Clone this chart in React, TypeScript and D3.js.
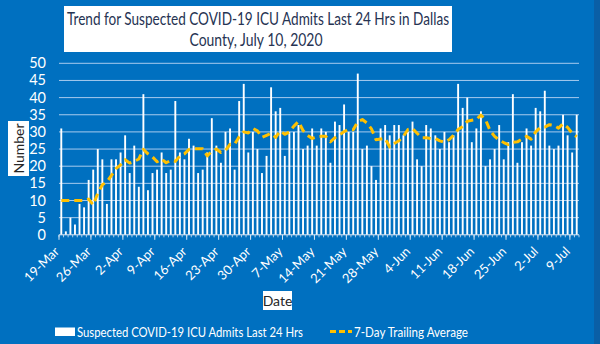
import React from "react";
import * as d3 from "d3";

const admits: number[] = [
  31, 1, 5, 3, 9, 8, 16, 19, 25, 22, 9, 22, 22, 24, 29, 18, 26, 14, 41, 13,
  18, 19, 24, 18, 19, 39, 24, 22, 28, 26, 18, 19, 24, 34, 26, 21, 30, 31, 19, 39,
  44, 24, 30, 25, 18, 23, 43, 36, 37, 23, 30, 30, 32, 25, 26, 31, 26, 31, 30, 21,
  33, 32, 38, 30, 30, 47, 25, 26, 20, 16, 31, 32, 29, 32, 32, 29, 30, 33, 22, 20,
  32, 31, 29, 25, 30, 27, 29, 44, 37, 40, 27, 31, 36, 20, 22, 25, 32, 22, 27, 41,
  21, 27, 31, 26, 37, 36, 42, 26, 25, 26, 35, 29, 24, 35,
];

const trailingAvg: number[] = [
  10, 10, 10, 10, 10, 10, 10.4, 8.7, 12.1, 14.6, 15.4, 17.3, 19.3, 20.4, 21.9, 20.9, 21.4, 22.1, 24.9, 23.6,
  22.7, 21.3, 22.1, 21.0, 21.7, 21.4, 23.0, 23.6, 24.9, 25.1, 25.1, 25.1, 23.0, 24.4, 25.0, 24.0, 24.6, 26.4, 26.4, 28.6,
  30.0, 29.7, 31.0, 30.3, 28.4, 29.0, 29.6, 28.4, 30.3, 29.3, 30.0, 31.7, 33.0, 30.4, 29.0, 28.1, 28.6, 28.7, 28.7, 27.1,
  28.3, 29.1, 30.1, 30.7, 30.6, 33.0, 33.6, 32.6, 30.9, 27.7, 27.9, 28.1, 25.6, 26.6, 27.4, 28.7, 30.7, 31.0, 29.6, 28.3,
  28.3, 28.1, 28.1, 27.4, 27.0, 27.7, 29.0, 30.7, 31.6, 33.1, 33.4, 33.6, 34.9, 33.6, 30.4, 28.7, 27.6, 26.9, 26.3, 27.0,
  27.1, 27.9, 28.7, 27.9, 30.0, 31.3, 31.4, 32.1, 31.9, 31.1, 32.4, 31.3, 29.6, 28.6,
];

const tickLabels: string[] = [
  "19-Mar", "26-Mar", "2-Apr", "9-Apr", "16-Apr", "23-Apr", "30-Apr", "7-May", "14-May",
  "21-May", "28-May", "4-Jun", "11-Jun", "18-Jun", "25-Jun", "2-Jul", "9-Jul",
];

const yTicks: number[] = [0, 5, 10, 15, 20, 25, 30, 35, 40, 45, 50];

const dates: Date[] = d3.timeDay.range(new Date(2020, 2, 19), new Date(2020, 6, 11));

const W = 600;
const H = 344;
const BG = "#0070C0";
const FONT = "Lato, 'Open Sans', sans-serif";

export default function App() {
  const x = d3
    .scaleBand<number>()
    .domain(dates.map((_, i) => i))
    .range([59, 579])
    .padding(0);
  const step = x.step();
  const y = d3.scaleLinear().domain([0, 50]).range([234.8, 63.3]);
  const barW = 1.9;

  const line = d3
    .line<number>()
    .x((_, i) => (x(i) as number) + step / 2)
    .y((d) => y(d));

  const tickIdx = tickLabels.map((_, k) => k * 7);

  return (
    <svg
      width={W}
      height={H}
      style={{ position: "fixed", left: 0, top: 0, display: "block" }}
      fontFamily={FONT}
    >
      <rect x={0} y={0} width={W} height={H} fill={BG} />
      <rect x={594} y={0} width={6} height={H} fill="#0a5fa6" />

      {/* title */}
      <rect x={64} y={6} width={388} height={46} fill="#ffffff" />
      <text x={258} y={25} textAnchor="middle" fontSize={17} fill="#263352"
        textLength={382} lengthAdjust="spacingAndGlyphs">
        Trend for Suspected COVID-19 ICU Admits Last 24 Hrs in Dallas
      </text>
      <text x={256} y={46} textAnchor="middle" fontSize={17} fill="#263352"
        textLength={133} lengthAdjust="spacingAndGlyphs">
        County, July 10, 2020
      </text>

      {/* gridlines */}
      {yTicks.slice(1).map((t) => (
        <line key={"g" + t} x1={59} x2={579} y1={y(t)} y2={y(t)} stroke="#a7cbee" strokeWidth={1} />
      ))}

      {/* y labels */}
      {yTicks.map((t) => (
        <text key={"yl" + t} x={46} y={y(t) + 5} textAnchor="end" fontSize={14.5} fill="#ffffff">
          {t}
        </text>
      ))}

      {/* bars */}
      {admits.map((v, i) => (
        <rect
          key={"b" + i}
          x={(x(i) as number) + step / 2 - barW / 2}
          y={y(v)}
          width={barW}
          height={y(0) - y(v)}
          fill="#ffffff"
        />
      ))}

      {/* axis */}
      <line x1={59} x2={579} y1={y(0)} y2={y(0)} stroke="#d6e6f5" strokeWidth={1} />
      {dates.map((_, i) => (
        <line key={"mt" + i} x1={x(i) as number} x2={x(i) as number} y1={y(0)} y2={y(0) + 2.5}
          stroke="#d6e6f5" strokeWidth={0.8} />
      ))}
      <line x1={579} x2={579} y1={y(0)} y2={y(0) + 2.5} stroke="#d6e6f5" strokeWidth={0.8} />
      {tickIdx.map((i) => (
        <line key={"t" + i} x1={x(i) as number} x2={x(i) as number} y1={y(0)} y2={y(0) + 5}
          stroke="#d6e6f5" strokeWidth={1} />
      ))}
      {tickLabels.map((lab, k) => {
        const tx = (x(tickIdx[k]) as number) + 1;
        const ty = y(0) + 17.5;
        return (
          <text key={"xl" + lab} transform={`translate(${tx},${ty}) rotate(-45)`} textAnchor="end"
            fontSize={13} fill="#ffffff">
            {lab}
          </text>
        );
      })}

      {/* average line */}
      <path d={line(trailingAvg) || ""} fill="none" stroke="#FFC000" strokeWidth={3}
        strokeDasharray="8,5" strokeLinejoin="round" />

      {/* Number label */}
      <rect x={8} y={121} width={21} height={55} fill="#ffffff" />
      <text transform="translate(24,148.5) rotate(-90)" textAnchor="middle" fontSize={14} fill="#262626">
        Number
      </text>

      {/* Date label */}
      <rect x={263} y={291} width={29} height={19} fill="#ffffff" />
      <text x={277.5} y={305.5} textAnchor="middle" fontSize={14} fill="#262626">
        Date
      </text>

      {/* legend */}
      <rect x={55} y={327.5} width={20} height={8.5} fill="#ffffff" />
      <text x={77} y={337} fontSize={14} fill="#ffffff" textLength={226} lengthAdjust="spacingAndGlyphs">
        Suspected COVID-19 ICU Admits Last 24 Hrs
      </text>
      <line x1={330} x2={352} y1={331.5} y2={331.5} stroke="#FFC000" strokeWidth={2.8} strokeDasharray="6,3" />
      <text x={354} y={337} fontSize={14} fill="#ffffff" textLength={114} lengthAdjust="spacingAndGlyphs">
        7-Day Trailing Average
      </text>
    </svg>
  );
}
